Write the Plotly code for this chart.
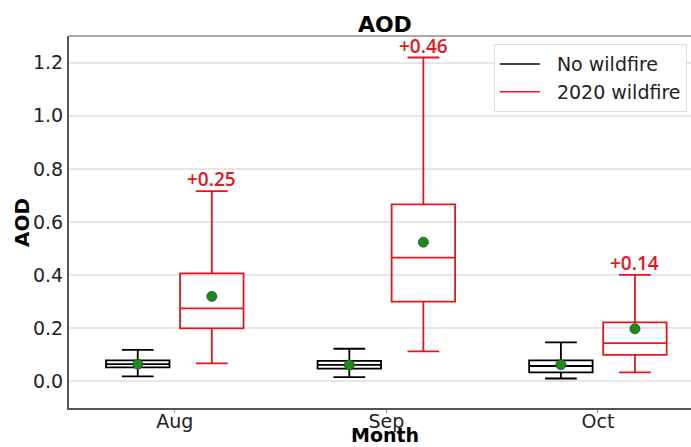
import plotly.graph_objects as go

months = ["Aug", "Sep", "Oct"]
series_names = ["No wildfire", "2020 wildfire"]

# No wildfire stats
nw_low = [0.019, 0.016, 0.011]
nw_q1 = [0.053, 0.048, 0.034]
nw_med = [0.065, 0.062, 0.058]
nw_q3 = [0.079, 0.077, 0.079]
nw_high = [0.119, 0.123, 0.147]
nw_mean = [0.065, 0.062, 0.063]

# 2020 wildfire stats
wf_low = [0.068, 0.113, 0.034]
wf_q1 = [0.200, 0.300, 0.100]
wf_med = [0.275, 0.466, 0.144]
wf_q3 = [0.407, 0.666, 0.222]
wf_high = [0.716, 1.219, 0.401]
wf_mean = [0.320, 0.524, 0.198]

diff_labels = ["+0.25", "+0.46", "+0.14"]

OFF = 0.175
idx = list(range(len(months)))
x_nw = [i - OFF for i in idx]
x_wf = [i + OFF for i in idx]

RED = "#e8141c"
NB = "\u00a0\u00a0"

fig = go.Figure()

fig.add_trace(go.Box(
    x=x_nw, q1=nw_q1, median=nw_med, q3=nw_q3,
    lowerfence=nw_low, upperfence=nw_high,
    line=dict(color="black", width=1.8), fillcolor="rgba(0,0,0,0)",
    width=0.30, whiskerwidth=0.5, showlegend=False, hoverinfo="skip",
))
fig.add_trace(go.Box(
    x=x_wf, q1=wf_q1, median=wf_med, q3=wf_q3,
    lowerfence=wf_low, upperfence=wf_high,
    line=dict(color=RED, width=1.8), fillcolor="rgba(0,0,0,0)",
    width=0.30, whiskerwidth=0.5, showlegend=False, hoverinfo="skip",
))

fig.add_trace(go.Scatter(
    x=x_nw + x_wf, y=nw_mean + wf_mean, mode="markers",
    marker=dict(color="#1e8a1e", size=10, line=dict(color="#145c14", width=0.8)),
    showlegend=False, hoverinfo="skip",
))

# legend proxies
fig.add_trace(go.Scatter(x=[None], y=[None], mode="lines", name=NB + series_names[0],
                         line=dict(color="black", width=1.5)))
fig.add_trace(go.Scatter(x=[None], y=[None], mode="lines", name=NB + series_names[1],
                         line=dict(color=RED, width=1.5)))

# annotations above wildfire whiskers
for xi, yi, t in zip(x_wf, wf_high, diff_labels):
    fig.add_annotation(x=xi, y=yi, text=t, showarrow=False, yanchor="bottom",
                       yshift=-3, font=dict(family="Open Sans", size=19, color=RED, weight=600))

fig.add_shape(type="line", xref="paper", yref="paper", x0=0, x1=1, y0=1, y1=1,
              line=dict(color="#555555", width=1.2))

# x-axis title as annotation (placed near the bottom edge like the reference)
fig.add_annotation(xref="paper", yref="paper", x=0.508, y=-0.1048, yshift=0,
                   text="<b>Month</b>", showarrow=False, xanchor="center", yanchor="bottom",
                   borderpad=0, font=dict(family="DejaVu Sans", size=19, color="black"))

# y-axis title as annotation
fig.add_annotation(xref="paper", yref="paper", x=-0.0756, y=0.5, textangle=-90,
                   text="<b>AOD</b>", showarrow=False, xanchor="center", yanchor="middle",
                   font=dict(family="DejaVu Sans", size=20, color="black"))

fig.update_layout(
    width=691, height=447,
    margin=dict(l=69, r=0, t=36, b=39),
    paper_bgcolor="white", plot_bgcolor="white",
    font=dict(family="DejaVu Sans", color="#222222"),
    title=dict(text="<b>AOD</b>", x=0.557, xanchor="center", xref="container",
               y=0.945, yanchor="middle", yref="container",
               font=dict(family="DejaVu Sans", size=22, color="black")),
    legend=dict(x=0.683, y=0.978, xanchor="left", yanchor="top",
                bgcolor="white", bordercolor="#dddddd", borderwidth=1,
                font=dict(family="DejaVu Sans", size=19, color="#222222"),
                tracegroupgap=0, itemwidth=40),
    xaxis=dict(range=[-0.5, 2.44], tickmode="array", tickvals=idx, ticktext=months,
               showgrid=False, zeroline=False, showline=True, linecolor="#555555",
               linewidth=2, ticks="outside", ticklen=3, tickcolor="#999999",
               ticklabelstandoff=-8,
               tickfont=dict(size=19, color="#222222"), automargin=False),
    yaxis=dict(range=[-0.1, 1.3], tickmode="array",
               tickvals=[0, 0.2, 0.4, 0.6, 0.8, 1.0, 1.2],
               ticktext=["0.0", "0.2", "0.4", "0.6", "0.8", "1.0", "1.2"],
               showgrid=True, gridcolor="#e6e6e6", gridwidth=1.5, zeroline=False,
               showline=True, linecolor="#555555", linewidth=2,
               tickfont=dict(size=19, color="#222222"), automargin=False),
)

fig.write_html("out.html", config={"displayModeBar": False},
               post_script="document.body.style.margin='0';document.body.style.overflow='hidden';")
